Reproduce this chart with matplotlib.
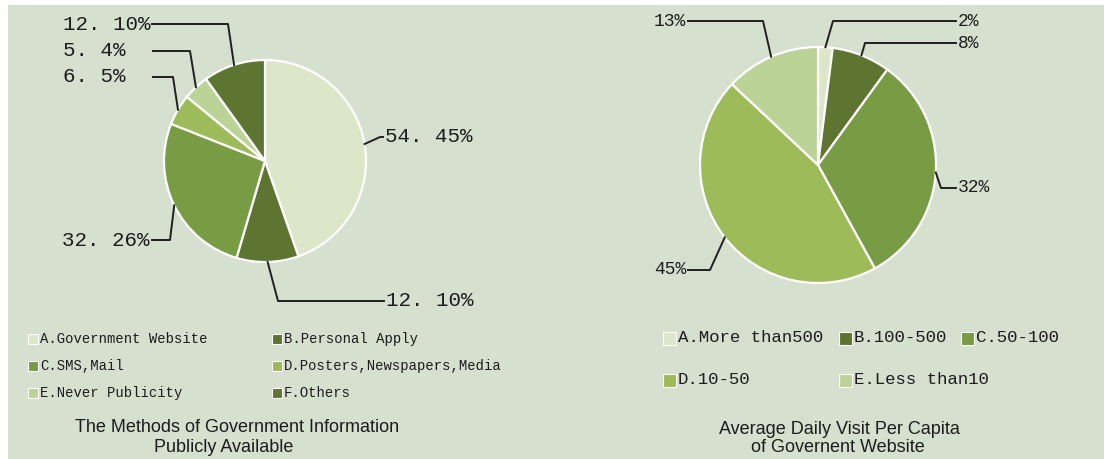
import matplotlib
matplotlib.use("Agg")
import matplotlib.pyplot as plt
from matplotlib.patches import Rectangle
import numpy as np

# Données des deux camemberts
methods = ["A.Government Website", "B.Personal Apply", "C.SMS,Mail",
           "D.Posters,Newspapers,Media", "E.Never Publicity", "F.Others"]
methods_counts = [54, 12, 32, 6, 5, 12]
methods_labels = ["54. 45%", "12. 10%", "32. 26%", "6. 5%", "5. 4%", "12. 10%"]

visits = ["A.More than500", "B.100-500", "C.50-100", "D.10-50", "E.Less than10"]
visits_pct = [2, 8, 32, 45, 13]
visits_labels = ["2%", "8%", "32%", "45%", "13%"]

col_a = "#dce6c8"
col_b = "#5e7431"
col_c = "#789c43"
col_d = "#9dbb58"
col_e = "#bcd398"
methods_colors = [col_a, col_b, col_c, col_d, col_e, col_b]
visits_colors = [col_a, col_b, col_c, col_d, col_e]

BG = "#d5e0cf"
MONO = "Liberation Mono"
SANS = "Liberation Sans"
INK = "#1c1c1c"

fig = plt.figure(figsize=(11.04, 4.59), dpi=100)
fig.patch.set_facecolor("white")
ax = fig.add_axes([0, 0, 1, 1])
ax.add_patch(Rectangle((8, 5), 1104, 459, facecolor=BG, edgecolor="none", zorder=0))


def draw_pie(values, colors, center, radius):
    wedges, _ = ax.pie(values, colors=colors, center=center, radius=radius,
                       startangle=-90, counterclock=True, frame=True,
                       wedgeprops=dict(edgecolor="white", linewidth=1.6))
    return wedges


def leader(wedge, center, radius, elbow, end, text, ha, size):
    m = np.deg2rad((wedge.theta1 + wedge.theta2) / 2)
    p = (center[0] + radius * np.cos(m), center[1] + radius * np.sin(m))
    ax.plot([p[0], elbow[0], end[0]], [p[1], elbow[1], end[1]],
            color="#202020", lw=1.4, zorder=5)
    tx = end[0] + (2 if ha == "left" else -2)
    ax.text(tx, end[1], text, ha=ha, va="center", family=MONO,
            fontsize=size, color=INK)


# camembert de gauche
c1, r1 = (265, 161), 101
w1 = draw_pie(methods_counts, methods_colors, c1, r1)
leader(w1[0], c1, r1, (380, 137), (383, 137), methods_labels[0], "left", 15)
leader(w1[1], c1, r1, (278, 301), (384, 301), methods_labels[1], "left", 15)
leader(w1[2], c1, r1, (170, 240), (152, 240), methods_labels[2], "right", 15)
leader(w1[3], c1, r1, (173, 77), (153, 77), "", "right", 15)
leader(w1[4], c1, r1, (190, 51), (153, 51), "", "right", 15)
leader(w1[5], c1, r1, (228, 24), (152, 24), "", "right", 15)
for lab, y in zip([methods_labels[5], methods_labels[4], methods_labels[3]], [24, 51, 77]):
    ax.text(63, y, lab, ha="left", va="center", family=MONO, fontsize=15, color=INK)

# camembert de droite
c2, r2 = (818, 165), 118
w2 = draw_pie(visits_pct, visits_colors, c2, r2)
leader(w2[0], c2, r2, (833, 21), (956, 21), visits_labels[0], "left", 13)
leader(w2[1], c2, r2, (865, 43), (956, 43), visits_labels[1], "left", 13)
leader(w2[2], c2, r2, (941, 188), (956, 188), visits_labels[2], "left", 13)
leader(w2[3], c2, r2, (710, 270), (688, 270), visits_labels[3], "right", 13)
leader(w2[4], c2, r2, (763, 21), (688, 21), visits_labels[4], "right", 13)

# légendes
def legend_item(x, y, size, color, label, fontsize):
    ax.add_patch(Rectangle((x, y - size / 2), size, size, facecolor=color,
                           edgecolor="white", lw=0.8, zorder=4))
    ax.text(x + size + 2, y, label, ha="left", va="center", family=MONO,
            fontsize=fontsize, color=INK)

left_pos = [(28, 339), (272, 339), (28, 366), (272, 366), (28, 393), (272, 393)]
for (x, y), col, lab in zip(left_pos, methods_colors, methods):
    legend_item(x, y, 10, col, lab, 10)

right_pos = [(663, 338), (839, 338), (961, 338), (663, 380), (839, 380)]
for (x, y), col, lab in zip(right_pos, visits_colors, visits):
    legend_item(x, y, 13, col, lab, 12.5)

# titres
ax.text(237, 428, "The Methods of Government Information", ha="center", va="center",
        family=SANS, fontsize=13, color=INK)
ax.text(224, 448, "Publicly Available", ha="center", va="center",
        family=SANS, fontsize=13, color=INK)
ax.text(839, 429, "Average Daily Visit Per Capita", ha="center", va="center",
        family=SANS, fontsize=13, color=INK)
ax.text(838, 448, "of Governent Website", ha="center", va="center",
        family=SANS, fontsize=13, color=INK)

ax.set_xlim(0, 1104)
ax.set_ylim(459, 0)
ax.set_aspect("auto")
ax.axis("off")
fig.savefig("out.png", dpi=100, facecolor=fig.get_facecolor())
